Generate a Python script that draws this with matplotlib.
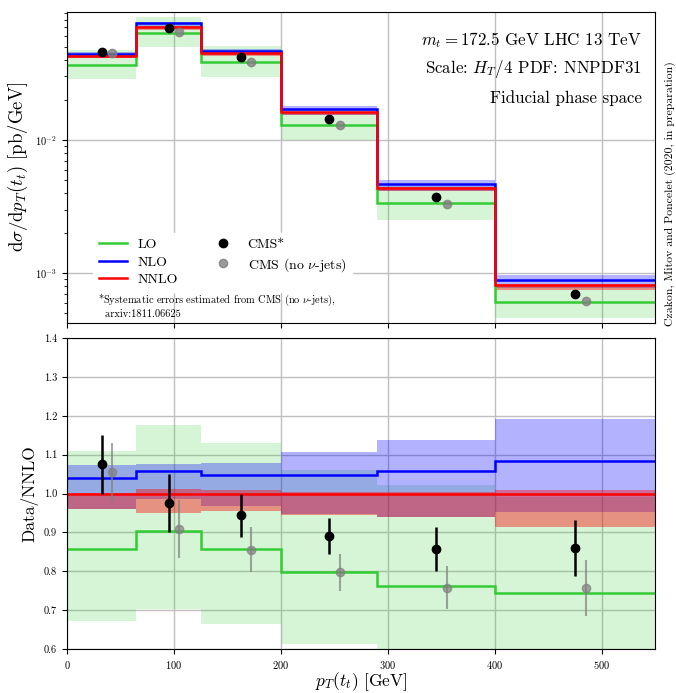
import numpy as np
import matplotlib
matplotlib.use('AGG')
import matplotlib.pyplot as plt

# pT(tt) bins [GeV]
edges = [0, 65, 125, 200, 290, 400, 550]
centers = [32.5, 95, 162.5, 245, 345, 475]

# NNLO prediction [pb/GeV]
nnlo = [0.0427, 0.0708, 0.0447, 0.0162, 0.00438, 0.000817]
nnlo_lo_band = [0.961, 0.951, 0.954, 0.945, 0.939, 0.915]
nnlo_hi_band = [1.002, 1.012, 1.008, 1.005, 1.005, 1.010]

# NLO and LO, as ratios to NNLO
nlo = [1.039, 1.058, 1.048, 1.047, 1.058, 1.084]
nlo_lo_band = [0.961, 0.987, 0.967, 0.948, 0.941, 0.952]
nlo_hi_band = [1.074, 1.077, 1.078, 1.106, 1.138, 1.192]

lo = [0.857, 0.903, 0.858, 0.798, 0.763, 0.745]
lo_lo_band = [0.673, 0.704, 0.665, 0.613, 0.575, 0.567]
lo_hi_band = [1.110, 1.177, 1.130, 1.061, 1.023, 0.990]

# CMS data, as ratios to NNLO
cms = [1.075, 0.976, 0.944, 0.891, 0.858, 0.860]
cms_err = [0.075, 0.075, 0.056, 0.047, 0.056, 0.073]
cms_nonu = [1.055, 0.909, 0.855, 0.797, 0.758, 0.758]
cms_nonu_err = [0.076, 0.075, 0.058, 0.048, 0.055, 0.072]
shift = 10.0

plt.rcParams['font.family'] = 'serif'
plt.rcParams['font.serif'] = ['cmr10']
plt.rcParams['mathtext.fontset'] = 'cm'
plt.rcParams['axes.formatter.use_mathtext'] = True
plt.rcParams['axes.unicode_minus'] = False

LO_COL = '#33cc33'
NLO_COL = 'blue'
NNLO_COL = 'red'

nnlo = np.array(nnlo)
bands = [
    (lo_lo_band, lo_hi_band, LO_COL, 0.2),
    (nlo_lo_band, nlo_hi_band, NLO_COL, 0.3),
    (nnlo_lo_band, nnlo_hi_band, NNLO_COL, 0.4),
]
lines = [
    (lo, LO_COL, 'LO'),
    (nlo, NLO_COL, 'NLO'),
    (np.ones(len(nnlo)), NNLO_COL, 'NNLO'),
]

fig = plt.figure(figsize=(6.76, 6.93), dpi=100)
ax1 = fig.add_axes([0.099, 0.534, 0.870, 0.449])
ax2 = fig.add_axes([0.099, 0.0635, 0.870, 0.4485])

for ax, scale in ((ax1, nnlo), (ax2, np.ones(len(nnlo)))):
    for low, high, col, alpha in bands:
        ax.stairs(np.array(high) * scale, edges, baseline=np.array(low) * scale,
                  fill=True, color=col, alpha=alpha, lw=0)
    for vals, col, lab in lines:
        ax.stairs(np.array(vals) * scale, edges, baseline=None,
                  color=col, lw=1.8, label=lab)
    ax.set_xlim(0, 550)
    ax.grid(True, color='0.75', lw=1.0)
    ax.set_axisbelow(True)
    ax.tick_params(labelsize=7.5)

# top: absolute cross sections
ax1.plot(centers, np.array(cms) * nnlo, 'o', color='black', ms=6, label='CMS*', zorder=5)
ax1.plot(np.array(centers) + shift, np.array(cms_nonu) * nnlo, 'o', color='0.5',
         alpha=0.8, ms=6, label=r'CMS (no $\nu$-jets)', zorder=5)
ax1.set_yscale('log')
ax1.set_ylim(4.23e-4, 0.0917)
ax1.set_xticks([0, 100, 200, 300, 400, 500])
ax1.tick_params(labelbottom=False)
ax1.set_ylabel(r'$\mathrm{d}\sigma/\mathrm{d}p_T(t_t)$ [pb/GeV]', fontsize=13.5)

ax1.legend(loc='lower left', bbox_to_anchor=(0.045, 0.10), ncol=2,
           fontsize=10, frameon=True, framealpha=1.0, edgecolor='white',
           fancybox=False, handlelength=2.0, labelspacing=0.35,
           columnspacing=2.2, borderaxespad=0.0)
ax1.text(0.053, 0.012, '*Systematic errors estimated from CMS (no $\\nu$-jets),\n  arxiv:1811.06625',
         transform=ax1.transAxes, fontsize=7.5, va='bottom', ha='left')

info = [r'$m_t = 172.5$ GeV LHC 13 TeV', r'Scale: $H_T/4$ PDF: NNPDF31', 'Fiducial phase space']
for k, line in enumerate(info):
    ax1.text(0.977, 0.91 - 0.094 * k, line, transform=ax1.transAxes,
             fontsize=12.2, ha='right', va='center')

# bottom: ratio to NNLO
ax2.errorbar(centers, cms, yerr=cms_err, fmt='o', color='black', ms=6,
             elinewidth=1.8, capsize=0, zorder=5)
ax2.errorbar(np.array(centers) + shift, cms_nonu, yerr=cms_nonu_err, fmt='o',
             color='0.5', alpha=0.7, ms=6, elinewidth=1.5, capsize=0, zorder=5)
ax2.set_ylim(0.6, 1.4)
ax2.set_yticks(np.arange(0.6, 1.41, 0.1))
ax2.set_yticklabels([f'{v:.1f}' for v in np.arange(0.6, 1.41, 0.1)])
ax2.set_xticks([0, 100, 200, 300, 400, 500])
ax2.set_ylabel('Data/NNLO', fontsize=12.5)
ax2.set_xlabel(r'$p_T(t_t)$ [GeV]', fontsize=12.5, labelpad=0)

fig.text(0.991, 0.72, 'Czakon, Mitov and Poncelet (2020, in preparation)',
         rotation=90, fontsize=8.5, ha='center', va='center')

fig.savefig('out.png', dpi=100)
